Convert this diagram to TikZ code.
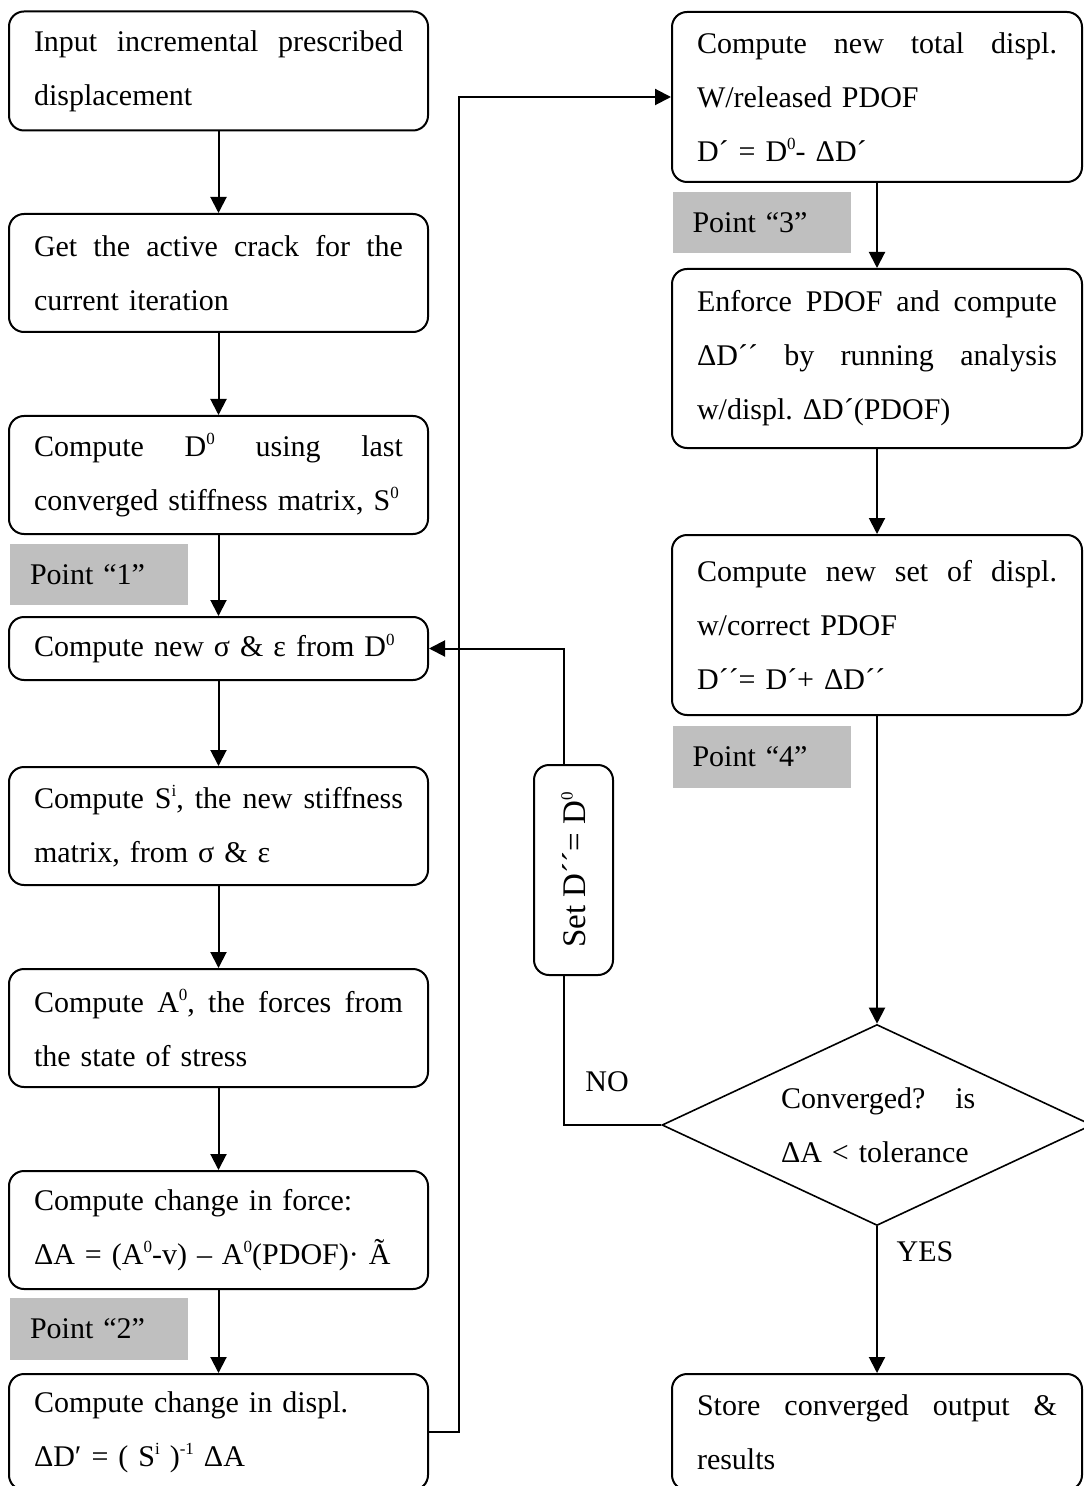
\documentclass[tikz,border=0pt]{standalone}
\usepackage{fontspec}
\setmainfont{Liberation Serif}
\usetikzlibrary{arrows.meta,shapes.geometric}
\definecolor{pointgray}{RGB}{191,191,191}
% a justified line inside a box
\newcommand{\jl}[1]{\leavevmode\hbox to\hsize{\spaceskip=0.25em plus 1fil\relax #1}}
\newcommand{\sps}[1]{\raisebox{0.85ex}{\fontsize{8.5}{8.5}\selectfont #1}}

\begin{document}
\begin{tikzpicture}[x=0.5pt, y=-0.5pt,
        every node/.style={font=\fontsize{15}{27}\selectfont\frenchspacing},
        procbox/.style={draw, line width=1pt, rounded corners=7.5pt, fill=white, align=left, inner xsep=12.5pt, inner ysep=2pt},
        leftbox/.style={procbox, text width=184.5pt, minimum height=#1},
        rightbox/.style={procbox, text width=180pt, minimum height=#1},
        pointbox/.style={fill=pointgray, align=left, text width=69pt, inner xsep=10pt, minimum height=#1},
        decision/.style={diamond, aspect=2.14, draw, line width=0.8pt, fill=white, minimum width=215pt, minimum height=100.5pt, inner sep=0pt, text width=96pt, align=left},
        setbox/.style={draw, line width=1pt, rounded corners=7.5pt, fill=white, rotate=90, minimum width=105pt, minimum height=39.5pt, inner sep=2pt, font=\fontsize{16.5}{20}\selectfont},
        wire/.style={line width=1pt},
        flow/.style={wire, -{Triangle[length=8pt,width=8pt]}}]
        \useasboundingbox (0,0) rectangle (1083,1486);

        % left column
        \node[leftbox=59.5pt] (inp) at (218.5, 71) {\jl{Input incremental prescribed}\\displacement};
        \node[leftbox=59pt] (crack) at (218.5, 273) {\jl{Get the active crack for the}\\current iteration};
        \node[leftbox=59pt] (dzero) at (218.5, 475) {\jl{Compute D\sps{0} using last}\\converged stiffness matrix, S\sps{0}};
        \node[pointbox=30.5pt] (pt1) at (99, 574.5) {Point “1”};
        \node[leftbox=31.5pt] (sigeps) at (218.5, 648.5) {Compute new σ \& ε from D\sps{0}};
        \node[leftbox=59pt] (stiff) at (218.5, 826) {\jl{Compute S\sps{i}, the new stiffness}\\matrix, from σ \& ε};
        \node[leftbox=59pt] (forces) at (218.5, 1028) {\jl{Compute A\sps{0}, the forces from}\\the state of stress};
        \node[leftbox=59pt] (dforce) at (218.5, 1230) {Compute change in force:\\\mbox{ΔA = (A\sps{0}-v) – A\sps{0}(PDOF)· Ã}};
        \node[pointbox=31pt] (pt2) at (99, 1329) {Point “2”};
        \node[leftbox=58pt] (ddispl) at (218.5, 1432) {Compute change in displ.\\ΔD′ = ( S\sps{i} )\sps{-1} ΔA};

        % right column
        \node[rightbox=85pt] (total) at (877, 97) {\jl{Compute new total displ.}\\W/released PDOF\\D´ = D\sps{0}- ΔD´};
        \node[pointbox=30.5pt] (pt3) at (761.5, 222.5) {Point “3”};
        \node[rightbox=89.5pt] (enforce) at (877, 358.5) {\jl{Enforce PDOF and compute}\\\jl{ΔD´´ by running analysis}\\w/displ. ΔD´(PDOF)};
        \node[rightbox=90pt] (corr) at (877, 625) {\jl{Compute new set of displ.}\\w/correct PDOF\\D´´= D´+ ΔD´´};
        \node[pointbox=31pt] (pt4) at (761.5, 757) {Point “4”};
        \node[decision] (conv) at (877, 1125) {\jl{Converged?\quad is}\\ΔA < tolerance};
        \node[rightbox=58pt] (store) at (877, 1432) {\jl{Store converged output \&}\\results};

        % reset branch
        \node[setbox] (setd) at (573.5, 870) {Set D´´= D\sps{0}};
        \node (nolbl) at (607, 1082) {NO};
        \node (yeslbl) at (925, 1252) {YES};

        \draw[flow] (inp) -- (crack);
        \draw[flow] (crack) -- (dzero);
        \draw[flow] (dzero) -- (sigeps);
        \draw[flow] (sigeps) -- (stiff);
        \draw[flow] (stiff) -- (forces);
        \draw[flow] (forces) -- (dforce);
        \draw[flow] (dforce) -- (ddispl);
        \draw[flow] (ddispl.east) -- ++(15pt,0) |- (total.west);
        \draw[flow] (total) -- (enforce);
        \draw[flow] (enforce) -- (corr);
        \draw[flow] (corr) -- (conv);
        \draw[flow] (conv) -- (store);
        \draw[wire] (conv.west) -| ([xshift=-4.75pt]setd.west);
        \draw[flow] ([xshift=-4.75pt]setd.east) |- (sigeps.east);
\end{tikzpicture}
\end{document}
